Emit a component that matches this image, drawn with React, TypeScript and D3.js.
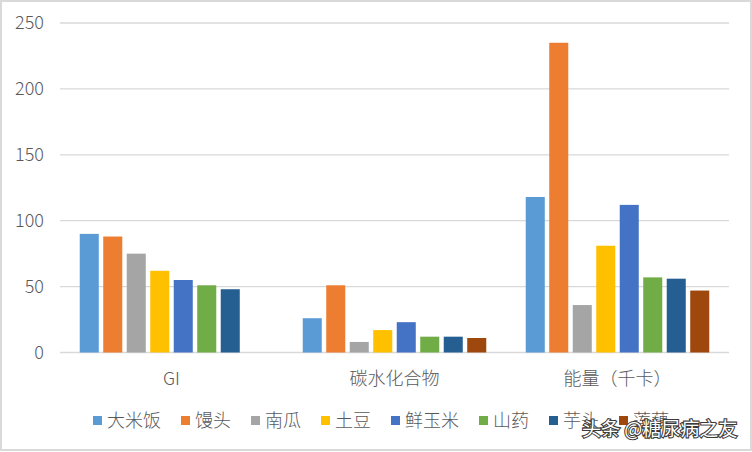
import React from 'react';
import * as d3 from 'd3';

// foods (legend order)
const foods = ['大米饭', '馒头', '南瓜', '土豆', '鲜玉米', '山药', '芋头', '莲藕'];
const categories = ['GI', '碳水化合物', '能量（千卡）'];

// one value per food, null = no bar
const giValues = [90, 88, 75, 62, 55, 51, 48, null];
const carbValues = [26, 51, 8, 17, 23, 12, 12, 11];
const energyValues = [118, 235, 36, 81, 112, 57, 56, 47];

const yTicks = [0, 50, 100, 150, 200, 250];
const colors = ['#5B9BD5', '#ED7D31', '#A5A5A5', '#FFC000', '#4472C4', '#70AD47', '#255E91', '#9E480E'];

const W = 752;
const H = 452;
const FONT = '"Noto Sans CJK SC", "Noto Sans", sans-serif';

export default function App() {
  const rows = [giValues, carbValues, energyValues];

  const x0 = d3.scaleBand<string>().domain(categories).range([60, 729]);
  const x1 = d3
    .scaleBand<string>()
    .domain(foods)
    .range([0, x0.bandwidth()])
    .paddingInner(0.19)
    .paddingOuter(0.84);
  const y = d3.scaleLinear().domain([0, 250]).range([352.5, 23]);

  // legend layout: square + text, advance depends on label length
  let lx = 93;
  const legend = foods.map((f, i) => {
    const item = { f, i, x: lx };
    lx += 10 + 4 + f.length * 18 + 20;
    return item;
  });

  return (
    <svg
      width={W}
      height={H}
      style={{ position: 'absolute', left: 0, top: 0, background: '#fff' }}
      fontFamily={FONT}
      fontWeight={300}
    >
      <rect x={1} y={1} width={W - 2} height={H - 3} fill="#fff" stroke="#d9d9d9" strokeWidth={2} />

      {/* grid + y labels */}
      {yTicks.map(t => (
        <g key={t}>
          <line x1={60} x2={729} y1={y(t)} y2={y(t)} stroke="#d9d9d9" strokeWidth={1.3} />
          <text x={44} y={y(t)} dy="0.35em" textAnchor="end" fontSize={18} fill="#595959">
            {t}
          </text>
        </g>
      ))}

      {/* bars */}
      {categories.map((c, ci) => (
        <g key={c} transform={`translate(${x0(c)},0)`}>
          {foods.map((f, fi) => {
            const v = rows[ci][fi];
            if (v == null) return null;
            return (
              <rect
                key={f}
                x={x1(f)}
                y={y(v)}
                width={x1.bandwidth()}
                height={y(0) - y(v)}
                fill={colors[fi]}
              />
            );
          })}
          <text
            x={x0.bandwidth() / 2}
            y={379}
            dy="0.35em"
            textAnchor="middle"
            fontSize={18}
            fill="#595959"
          >
            {c}
          </text>
        </g>
      ))}

      {/* legend */}
      {legend.map(d => (
        <g key={d.f} transform={`translate(${d.x},0)`}>
          <rect x={0} y={416} width={9} height={9} fill={colors[d.i]} />
          <text x={14} y={421} dy="0.35em" fontSize={18} fill="#595959">
            {d.f}
          </text>
        </g>
      ))}

      {/* watermark (overlaps the legend, as in the source image) */}
      <text
        x={582}
        y={429}
        dy="0.35em"
        fontSize={19}
        fontWeight={400}
        fill="#fff"
        stroke="#3a3a3a"
        strokeWidth={2.2}
        style={{ paintOrder: 'stroke' }}
      >
        头条 @糖尿病之友
      </text>
    </svg>
  );
}
